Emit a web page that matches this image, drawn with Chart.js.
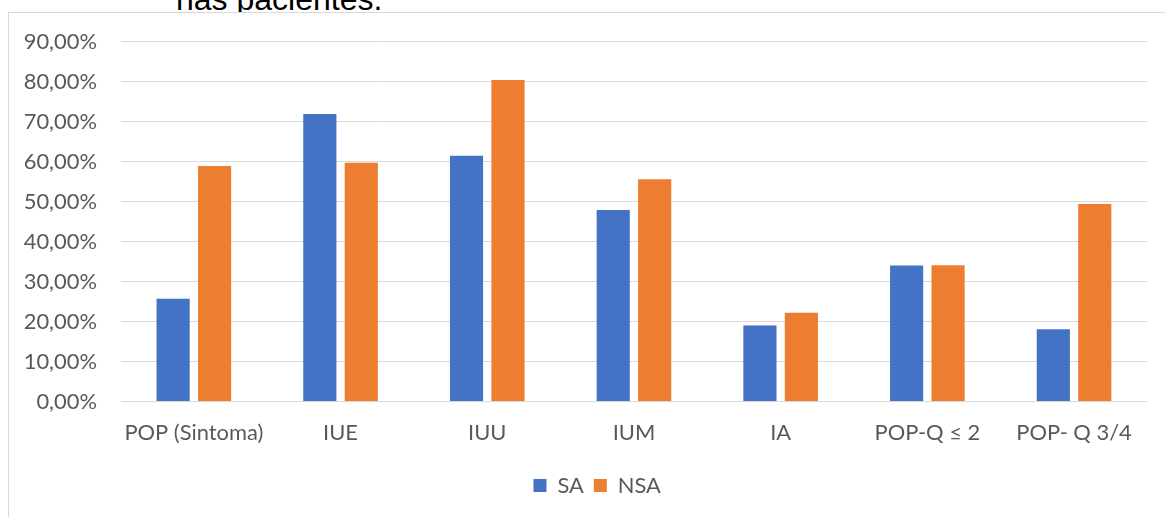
<!DOCTYPE html>
<html>
<head>
<meta charset="utf-8">
<script src="https://cdn.jsdelivr.net/npm/chart.js@4.4.1/dist/chart.umd.min.js"></script>
<style>
  body { margin: 0; background: #fff; width: 1165px; height: 517px; overflow: hidden; position: relative; }
  #caption {
    position: absolute; left: 176px; top: -17px;
    font-family: "Liberation Sans", Arial, sans-serif; font-size: 32px; line-height: 32px;
    color: #000; white-space: nowrap;
  }
  #box {
    position: absolute; left: 8px; top: 12px; width: 1157px; height: 505px;
    border-left: 1px solid #d9d9d9; border-top: 1px solid #d9d9d9; background: #fff;
  }
  canvas { display: block; }
</style>
</head>
<body>
<div id="caption">nas pacientes.</div>
<div id="box"><canvas id="chart" width="1156" height="504"></canvas></div>
<script>
// valores (%)
const categories = ['POP (Sintoma)', 'IUE', 'IUU', 'IUM', 'IA', 'POP-Q \u2264 2', 'POP- Q 3/4'];
const saValues = [25.7, 71.9, 61.5, 47.9, 19.0, 34.0, 18.1];
const nsaValues = [58.9, 59.7, 80.4, 55.6, 22.2, 34.1, 49.4];
const seriesNames = ['SA', 'NSA'];
const yTicks = [0, 10, 20, 30, 40, 50, 60, 70, 80, 90];

const textColor = '#595959';
const gridColor = '#d9d9d9';
const fontFamily = 'Lato, "Open Sans", sans-serif';

// ajusta o tamanho da fonte para a largura do rótulo de referência
const probe = document.createElement('canvas').getContext('2d');
probe.font = '22px ' + fontFamily;
const fontSize = Math.round(22 * 139 / probe.measureText(categories[0]).width * 10) / 10;

// desloca a legenda um pouco para a direita, como no original
const legendShift = {
  id: 'legendShift',
  afterLayout(chart) {
    const lg = chart.legend;
    if (lg) { lg.left += 19; lg.right += 19; }
  }
};

new Chart(document.getElementById('chart'), {
  type: 'bar',
  data: {
    labels: categories,
    datasets: [
      { label: seriesNames[0], data: saValues, backgroundColor: '#4472c4' },
      { label: seriesNames[1], data: nsaValues, backgroundColor: '#ed7d31' }
    ]
  },
  options: {
    responsive: false,
    animation: false,
    categoryPercentage: 0.565,
    barPercentage: 0.8,
    layout: {
      padding: { left: 0, right: 17.6, top: 28.7, bottom: 10.5 }
    },
    scales: {
      x: {
        grid: { display: false },
        border: { display: false },
        ticks: {
          color: textColor,
          font: { family: fontFamily, size: fontSize },
          padding: 10,
          maxRotation: 0,
          autoSkip: false
        },
        afterFit: (scale) => { scale.height = 63.1; }
      },
      y: {
        min: 0,
        max: 90,
        afterBuildTicks: (scale) => { scale.ticks = yTicks.map(v => ({ value: v })); },
        grid: { color: gridColor, lineWidth: 1, drawTicks: false },
        border: { display: false },
        ticks: {
          color: textColor,
          font: { family: fontFamily, size: fontSize },
          padding: 23.5,
          callback: (v) => v.toFixed(2).replace('.', ',') + '%'
        },
        afterFit: (scale) => {
          scale.width = 111.5;
          scale.paddingTop = 0;
          scale.paddingBottom = 0;
        }
      }
    },
    plugins: {
      legend: {
        position: 'bottom',
        labels: {
          color: textColor,
          font: { family: fontFamily, size: fontSize },
          boxWidth: 13,
          boxHeight: 13,
          padding: 10
        }
      },
      tooltip: { enabled: false }
    }
  },
  plugins: [legendShift]
});
</script>
</body>
</html>
